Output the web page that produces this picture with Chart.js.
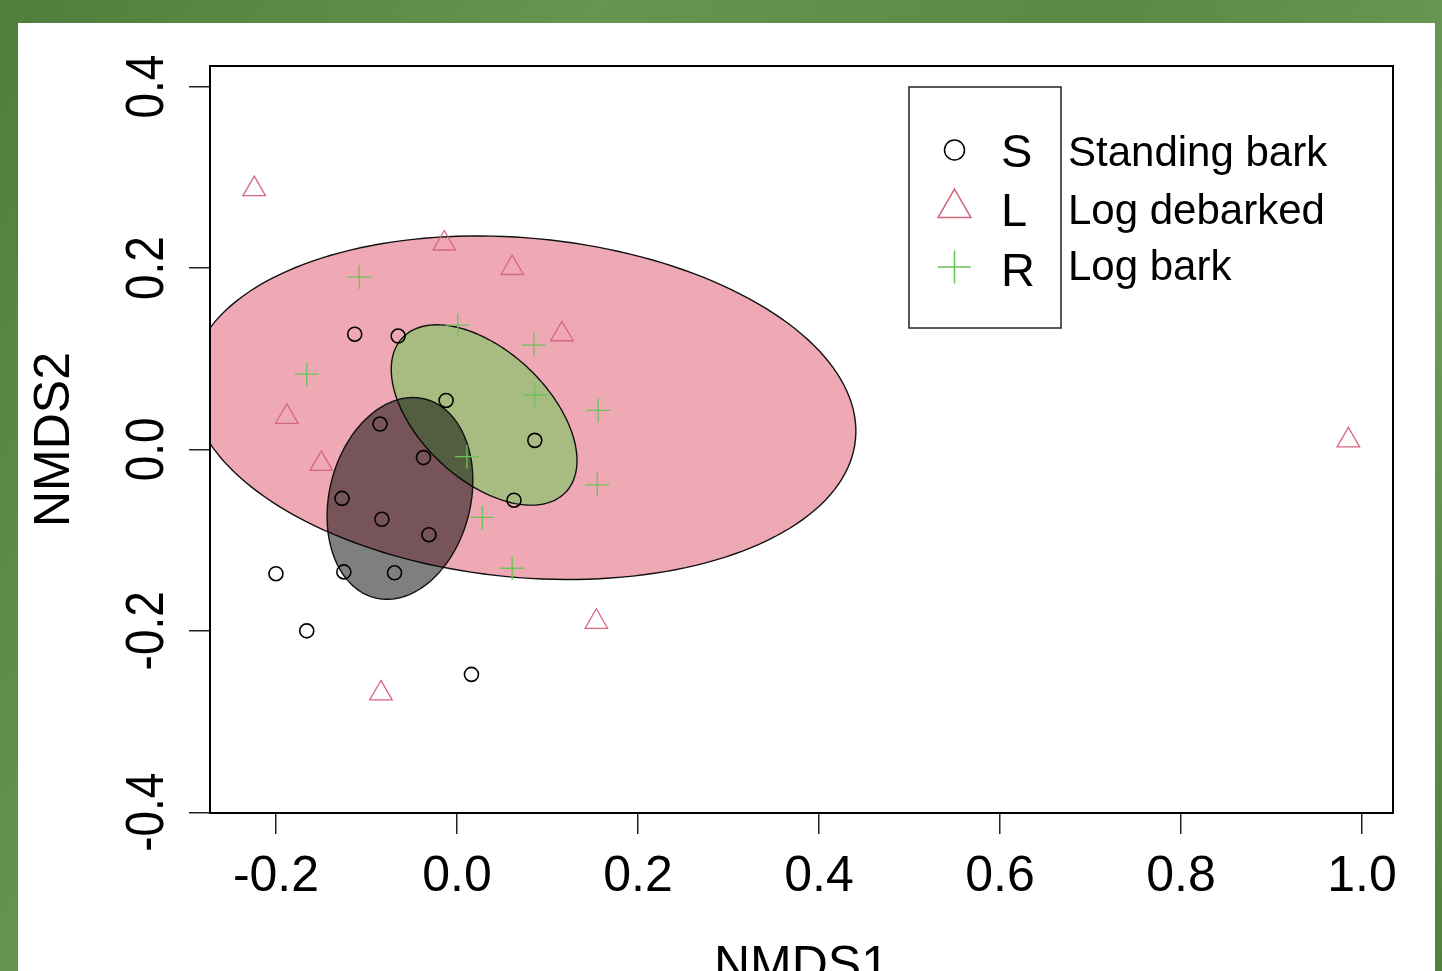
<!DOCTYPE html>
<html lang="en">
<head>
<meta charset="utf-8">
<title>NMDS ordination of bark communities</title>
<script src="https://cdn.jsdelivr.net/npm/chart.js@4.4.1/dist/chart.umd.min.js"></script>
<style>
  html, body { margin: 0; padding: 0; overflow: hidden; }
  body {
    position: relative;
    width: 1442px;
    height: 971px;
    background: linear-gradient(120deg, #4e7e3b 0%, #659650 30%, #588a45 55%, #6b9b57 80%, #4f803c 100%);
  }
  .panel {
    position: absolute;
    left: 18px;
    top: 23px;
    width: 1417px;
    height: 990px;
    background: #fff;
  }
  #nmds { position: absolute; left: 0; top: 0; }
</style>
</head>
<body>
<div class="panel"></div>
<canvas id="nmds" width="1442" height="1010"></canvas>

<script>
// ---- site scores ----
// S = standing bark, L = log debarked, R = log bark
const S_X = [-0.113, -0.065, -0.012, -0.085, -0.037, 0.086, -0.127, -0.083, -0.031, 0.063, -0.200, -0.125, -0.069, -0.166, 0.016];
const S_Y = [ 0.127,  0.125,  0.054,  0.028, -0.009, 0.010, -0.054, -0.077, -0.094, -0.056, -0.137, -0.135, -0.136, -0.200, -0.248];

const L_X = [-0.224, -0.014, 0.061, 0.116, -0.188, -0.150, 0.154, -0.084, 0.985];
const L_Y = [ 0.287,  0.227, 0.200, 0.127,  0.036, -0.016, -0.190, -0.269, 0.010];

const R_X = [-0.108, -0.166, 0.001, 0.085, 0.086, 0.156, 0.011, 0.155, 0.028, 0.061];
const R_Y = [ 0.190,  0.083, 0.137, 0.115, 0.060, 0.043, -0.008, -0.039, -0.075, -0.131];

const GROUP_CODES = ['S', 'L', 'R'];
const GROUP_NAMES = ['Standing bark', 'Log debarked', 'Log bark'];

// group ellipses: centre, semi-axes and rotation (degrees), index as GROUP_CODES
const ELL_CX  = [-0.063, 0.073, 0.030];
const ELL_CY  = [-0.054, 0.046, 0.038];
const ELL_A   = [ 0.113, 0.369, 0.124];
const ELL_B   = [ 0.078, 0.187, 0.071];
const ELL_ROT = [  75.8,  -5.4, -43.2];

const X_TICKS       = [-0.2, 0.0, 0.2, 0.4, 0.6, 0.8, 1.0];
const X_TICK_LABELS = ['-0.2', '0.0', '0.2', '0.4', '0.6', '0.8', '1.0'];
const Y_TICKS       = [-0.4, -0.2, 0.0, 0.2, 0.4];
const Y_TICK_LABELS = ['-0.4', '-0.2', '0.0', '0.2', '0.4'];

// ---- styles ----
const FONT_FAMILY = '"Liberation Sans", Arial, Helvetica, sans-serif';
const POINT_COLOR = ['#000000', '#d4677d', '#6cc35a'];
const POINT_STYLE = ['circle', 'triangle', 'cross'];
const POINT_SIZE  = [7, 13, 12];
const ELL_FILL    = ['rgba(0,0,0,0.5)', 'rgba(223,83,107,0.5)', 'rgba(97,208,79,0.5)'];
const ELL_ORDER   = [1, 2, 0];   // L first, then R, S on top

function toPoints(xs, ys) {
  return xs.map(function (x, i) { return { x: x, y: ys[i] }; });
}

// ellipses under the points, clipped to the plot region
const ellipsePlugin = {
  id: 'groupEllipses',
  beforeDatasetsDraw: function (chart) {
    const ctx = chart.ctx, area = chart.chartArea;
    const xs = chart.scales.x, ys = chart.scales.y;
    ctx.save();
    ctx.beginPath();
    ctx.rect(area.left, area.top, area.right - area.left, area.bottom - area.top);
    ctx.clip();
    ELL_ORDER.forEach(function (g) {
      const phi = ELL_ROT[g] * Math.PI / 180;
      const steps = 180;
      ctx.beginPath();
      for (let i = 0; i <= steps; i++) {
        const t = i / steps * 2 * Math.PI;
        const u = ELL_A[g] * Math.cos(t);
        const v = ELL_B[g] * Math.sin(t);
        const px = xs.getPixelForValue(ELL_CX[g] + u * Math.cos(phi) - v * Math.sin(phi));
        const py = ys.getPixelForValue(ELL_CY[g] + u * Math.sin(phi) + v * Math.cos(phi));
        if (i === 0) ctx.moveTo(px, py); else ctx.lineTo(px, py);
      }
      ctx.closePath();
      ctx.fillStyle = ELL_FILL[g];
      ctx.fill();
      ctx.lineWidth = 1.4;
      ctx.strokeStyle = '#111';
      ctx.stroke();
    });
    ctx.restore();
  }
};

// box, rotated y tick labels and the R-style legend
const framePlugin = {
  id: 'frameAndLegend',
  afterDraw: function (chart) {
    const ctx = chart.ctx, area = chart.chartArea;
    const ys = chart.scales.y;
    ctx.save();

    ctx.lineWidth = 2;
    ctx.strokeStyle = '#000';
    ctx.strokeRect(area.left, area.top, area.right - area.left, area.bottom - area.top);

    // y tick labels, reading bottom to top like base R
    ctx.fillStyle = '#000';
    ctx.font = '54px ' + FONT_FAMILY;
    ctx.textAlign = 'center';
    ctx.textBaseline = 'alphabetic';
    Y_TICKS.forEach(function (v, i) {
      const py = ys.getPixelForValue(v);
      ctx.save();
      ctx.translate(area.left - 47, py);
      ctx.rotate(-Math.PI / 2);
      ctx.scale(0.85, 1);
      ctx.fillText(Y_TICK_LABELS[i], 0, 0);
      ctx.restore();
    });

    // legend
    const boxL = 909, boxT = 87, boxW = 152, boxH = 241;
    ctx.lineWidth = 1.5;
    ctx.strokeStyle = '#222';
    ctx.strokeRect(boxL, boxT, boxW, boxH);

    const symY   = [150, 208, 267];
    const symR   = [10, 19, 16.5];
    const codeY  = [167, 226, 286];
    const nameY  = [166, 224, 280];
    GROUP_CODES.forEach(function (code, g) {
      ctx.strokeStyle = POINT_COLOR[g];
      ctx.fillStyle = 'rgba(0,0,0,0)';
      Chart.helpers.drawPoint(ctx, {
        pointStyle: POINT_STYLE[g],
        radius: symR[g],
        borderWidth: 1.4,
        rotation: 0
      }, 954.5, symY[g]);

      ctx.fillStyle = '#000';
      ctx.textAlign = 'left';
      ctx.textBaseline = 'alphabetic';
      ctx.font = '47px ' + FONT_FAMILY;
      ctx.fillText(code, 1001, codeY[g]);
      ctx.font = '42px ' + FONT_FAMILY;
      ctx.fillText(GROUP_NAMES[g], 1068, nameY[g]);
    });

    ctx.restore();
  }
};

const datasets = [
  toPoints(S_X, S_Y),
  toPoints(L_X, L_Y),
  toPoints(R_X, R_Y)
].map(function (pts, g) {
  return {
    label: GROUP_NAMES[g],
    data: pts,
    pointStyle: POINT_STYLE[g],
    pointRadius: POINT_SIZE[g],
    pointBorderColor: POINT_COLOR[g],
    pointBackgroundColor: 'rgba(0,0,0,0)',
    pointBorderWidth: g === 0 ? 1.6 : 1.3,
    showLine: false
  };
});

new Chart(document.getElementById('nmds'), {
  type: 'scatter',
  data: { datasets: datasets },
  options: {
    responsive: false,
    animation: false,
    events: [],
    layout: { padding: { left: 0, top: 66, right: 49, bottom: 0 } },
    plugins: {
      legend:  { display: false },
      tooltip: { enabled: false }
    },
    scales: {
      x: {
        type: 'linear',
        position: 'bottom',
        min: -0.2729,
        max: 1.0343,
        afterBuildTicks: function (axis) {
          axis.ticks = X_TICKS.map(function (v) { return { value: v }; });
        },
        afterFit: function (axis) { axis.height = 197; },
        ticks: {
          padding: 13,
          color: '#000',
          font: { family: FONT_FAMILY, size: 50 },
          maxRotation: 0,
          callback: function (v, i) { return X_TICK_LABELS[i]; }
        },
        grid: { drawOnChartArea: false, drawTicks: true, tickLength: 21, color: '#222', lineWidth: 1.5 },
        border: { display: true, color: '#000', width: 2 },
        title: {
          display: true,
          text: 'NMDS1',
          color: '#000',
          font: { family: FONT_FAMILY, size: 50 },
          padding: { top: 0, bottom: 13 }
        }
      },
      y: {
        type: 'linear',
        position: 'left',
        min: -0.4008,
        max: 0.4227,
        afterBuildTicks: function (axis) {
          axis.ticks = Y_TICKS.map(function (v) { return { value: v }; });
        },
        afterFit: function (axis) { axis.width = 210; },
        ticks: { display: false },
        grid: { drawOnChartArea: false, drawTicks: true, tickLength: 21, color: '#222', lineWidth: 1.5 },
        border: { display: true, color: '#000', width: 2 },
        title: {
          display: true,
          text: 'NMDS2',
          color: '#000',
          font: { family: FONT_FAMILY, size: 50 },
          padding: { top: 25, bottom: 0 }
        }
      }
    }
  },
  plugins: [ellipsePlugin, framePlugin]
});
</script>
</body>
</html>
